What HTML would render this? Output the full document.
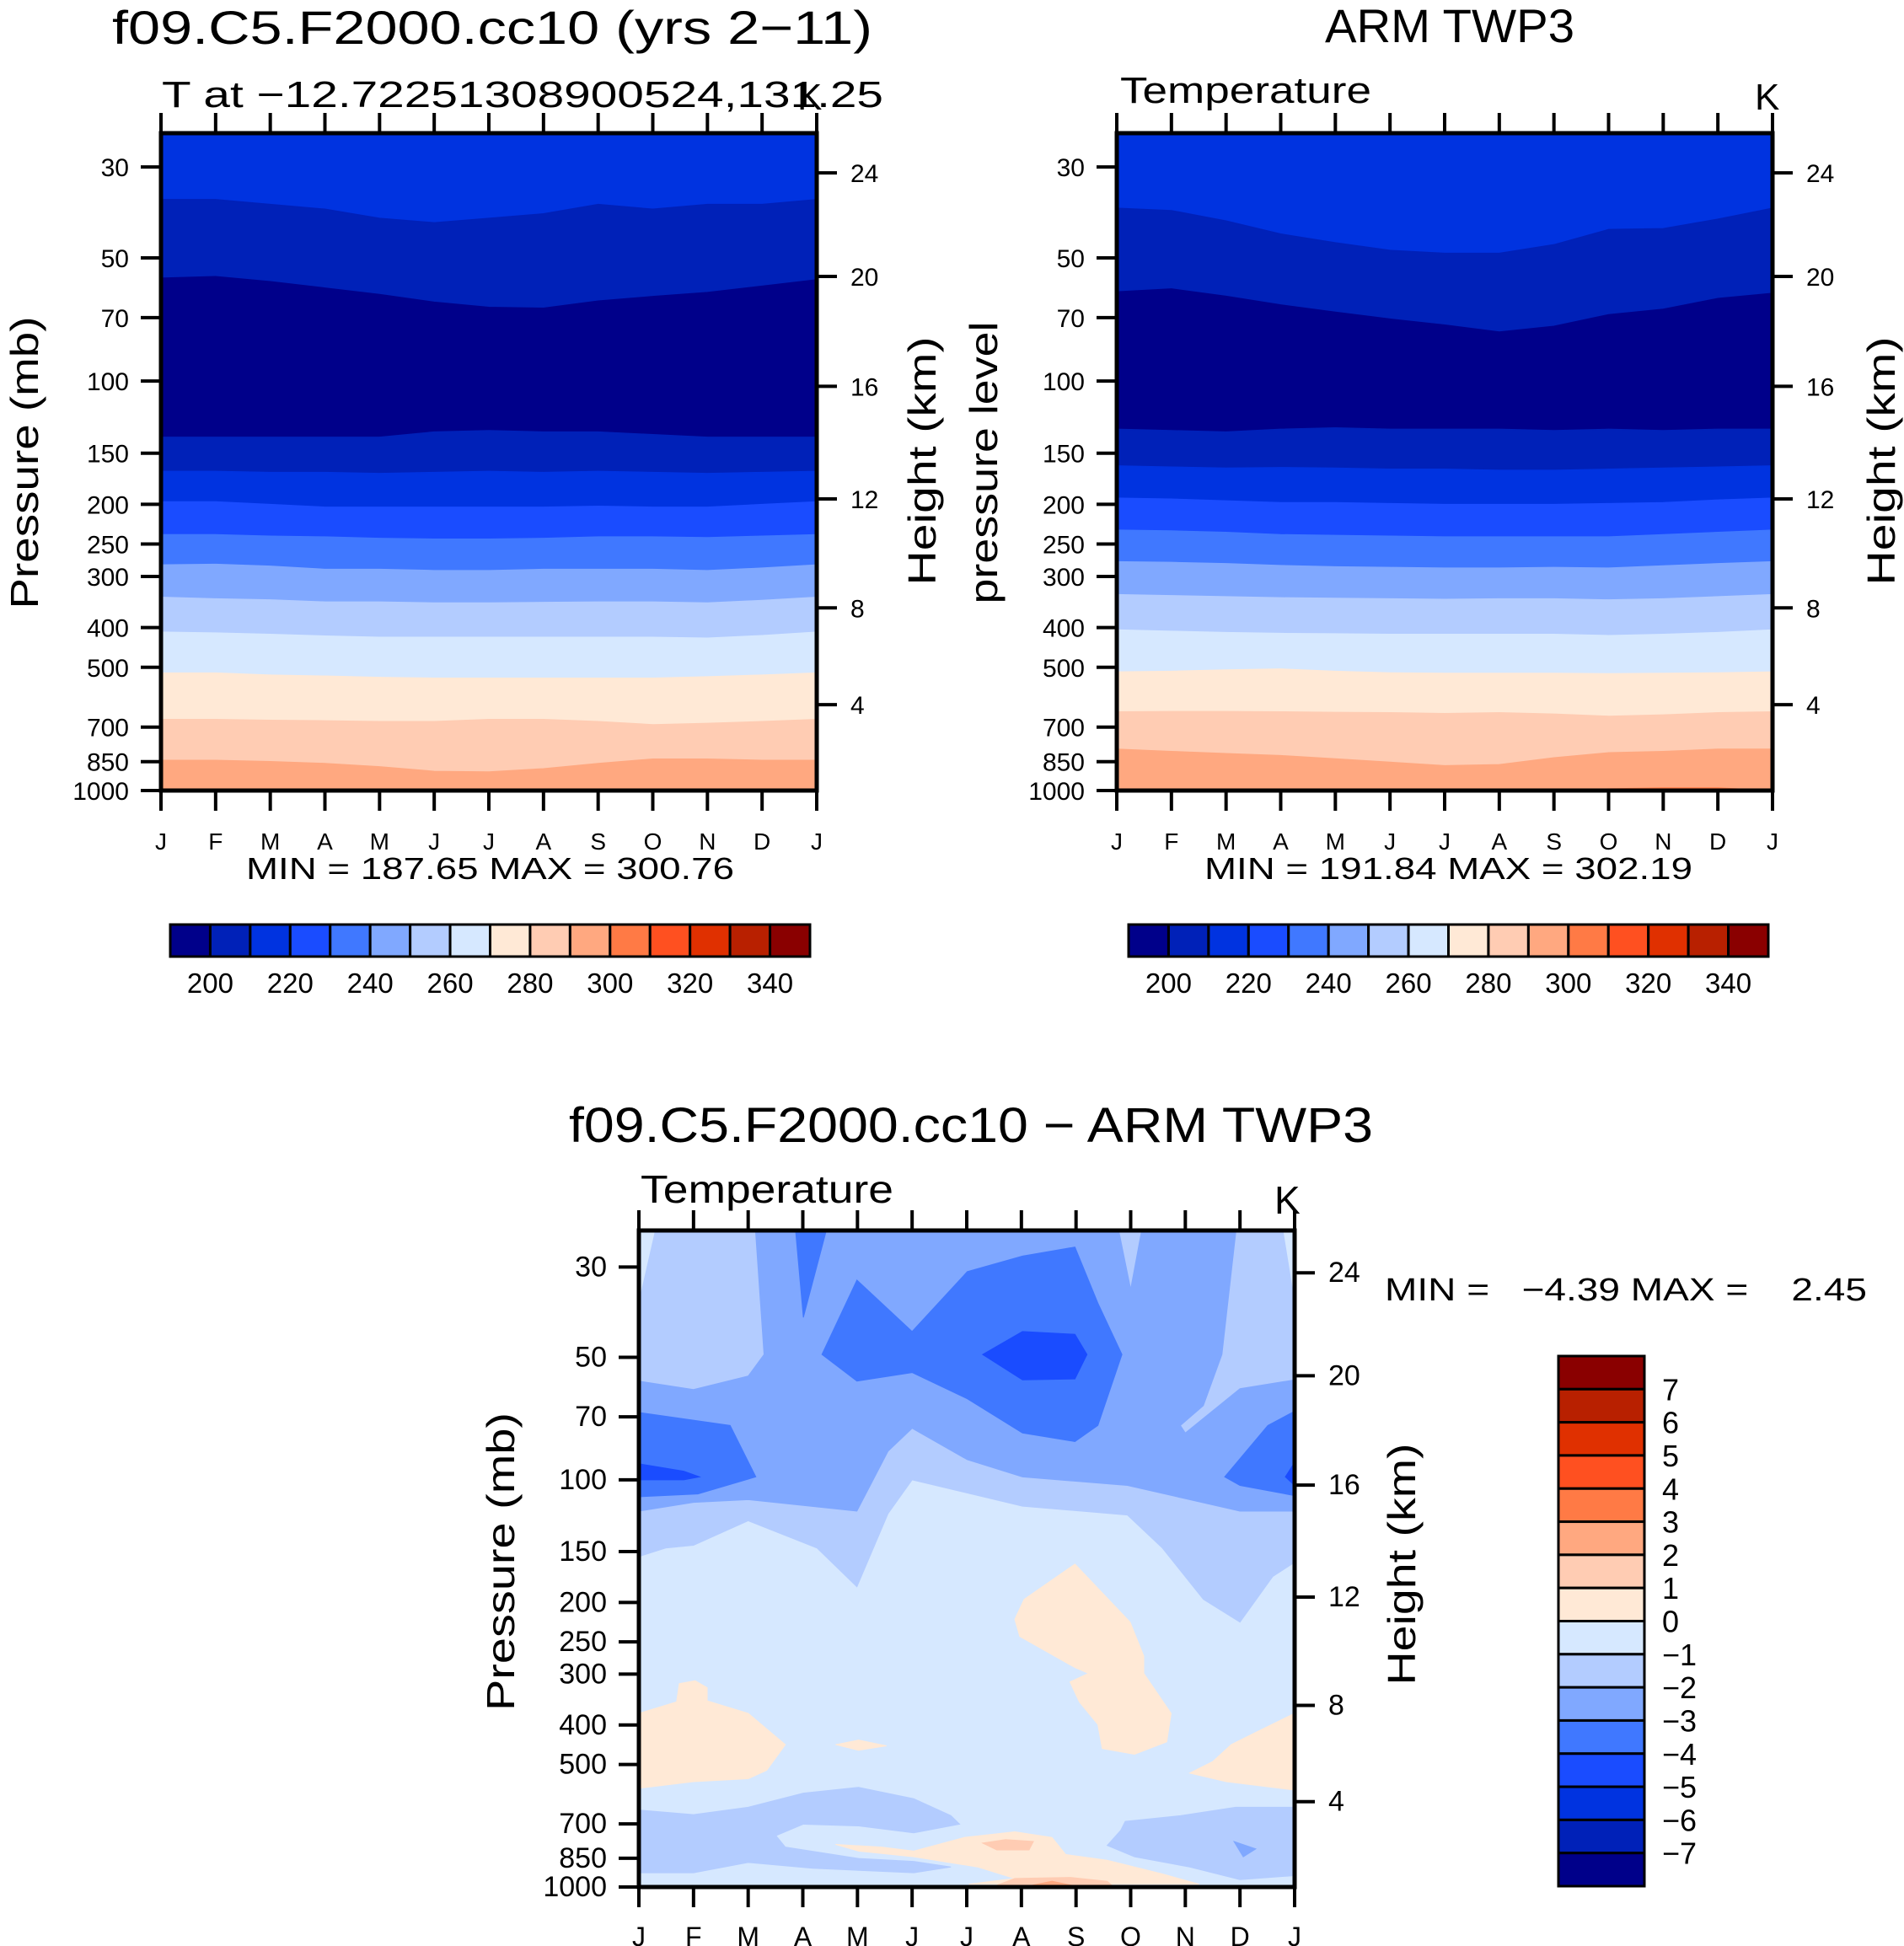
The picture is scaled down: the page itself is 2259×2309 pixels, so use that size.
<!DOCTYPE html>
<html><head><meta charset="utf-8"><style>
html,body{margin:0;padding:0;background:#fff;}
svg{display:block;font-family:"Liberation Sans",sans-serif;}
.nar{font-family:"Liberation Sans Narrow","Liberation Sans",sans-serif;}
</style></head><body>
<svg id="fig" width="2259" height="2309" viewBox="0 0 2259 2309" xmlns="http://www.w3.org/2000/svg">
<defs>
<clipPath id="c1"><rect x="191" y="158" width="778" height="780"/></clipPath>
<clipPath id="c2"><rect x="1325" y="158" width="778" height="780"/></clipPath>
<clipPath id="c3"><rect x="758" y="1460" width="778" height="779"/></clipPath>
</defs>
<text x="133" y="52" font-size="56" textLength="902" lengthAdjust="spacingAndGlyphs">f09.C5.F2000.cc10 (yrs 2−11)</text>
<text x="192" y="127" font-size="44" textLength="856" lengthAdjust="spacingAndGlyphs">T at −12.72251308900524,131.25</text>
<text x="946" y="130" font-size="44">K</text>
<text x="1572" y="50" font-size="56" textLength="296" lengthAdjust="spacingAndGlyphs">ARM TWP3</text>
<text x="1329" y="122" font-size="44" textLength="298" lengthAdjust="spacingAndGlyphs">Temperature</text>
<text x="2082" y="130" font-size="44">K</text>
<text class="nar" x="675" y="1355" font-size="58" textLength="954" lengthAdjust="spacingAndGlyphs">f09.C5.F2000.cc10 − ARM TWP3</text>
<text class="nar" x="760" y="1427" font-size="46" textLength="300" lengthAdjust="spacingAndGlyphs">Temperature</text>
<text class="nar" x="1512" y="1440" font-size="46">K</text>
<text x="292" y="1043" font-size="36" textLength="579" lengthAdjust="spacingAndGlyphs">MIN = 187.65 MAX = 300.76</text>
<text x="1429" y="1043" font-size="36" textLength="579" lengthAdjust="spacingAndGlyphs">MIN = 191.84 MAX = 302.19</text>
<text class="nar" x="1643" y="1543" font-size="38" xml:space="preserve" textLength="572" lengthAdjust="spacingAndGlyphs">MIN =   −4.39 MAX =    2.45</text>
<text transform="translate(45,549) rotate(-90)" text-anchor="middle" font-size="46" textLength="347" lengthAdjust="spacingAndGlyphs">Pressure (mb)</text>
<text transform="translate(1110,547) rotate(-90)" text-anchor="middle" font-size="46" textLength="295" lengthAdjust="spacingAndGlyphs">Height (km)</text>
<text transform="translate(1183,549) rotate(-90)" text-anchor="middle" font-size="46" textLength="335" lengthAdjust="spacingAndGlyphs">pressure level</text>
<text transform="translate(2248,547) rotate(-90)" text-anchor="middle" font-size="46" textLength="295" lengthAdjust="spacingAndGlyphs">Height (km)</text>
<text transform="translate(610,1853) rotate(-90)" text-anchor="middle" font-size="46" textLength="354" lengthAdjust="spacingAndGlyphs">Pressure (mb)</text>
<text transform="translate(1679,1856) rotate(-90)" text-anchor="middle" font-size="46" textLength="287" lengthAdjust="spacingAndGlyphs">Height (km)</text>
<g id="layer"></g>
</svg>
<script>
const NS='http://www.w3.org/2000/svg';
const colors=['#00008a','#0021b8','#0033e0','#1a4cff','#4078ff','#80a8ff','#b3ccff','#d6e8ff','#ffe9d6','#ffccb3','#ffa880','#ff7a45','#ff5020','#e03000','#b82000','#8a0000'];
const months=['J','F','M','A','M','J','J','A','S','O','N','D','J'];
const pressureTicks=[30,50,70,100,150,200,250,300,400,500,700,850,1000];
const heightTicks=[4,8,12,16,20,24];
const heightTickPressure=[617,358,194,103,55.5,31];
const absLabels=[200,220,240,260,280,300,320,340];
const diffLabels=['7','6','5','4','3','2','1','0','−1','−2','−3','−4','−5','−6','−7'];
// model: pressure (mb) of each isotherm per month (J..J)
const modelT210upper=[36,36,37,38,40,41,40,39,37,38,37,37,36];
const modelT200upper=[56,55.5,57.1,59.2,61.4,64.1,66,66.3,63.7,62.1,60.7,58.6,56.5];
const modelT200lower=[137,137,137,137,137,133,132,133,133,135,137,137,137];
const modelT210=[166,166,167,167,168,167,166,167,166,167,168,167,166];
const modelT220=[197,197,200,203,203,203,203,203,202,203,203,200,197];
const modelT230=[237,237,239,240,242,243,243,242,240,240,241,239,237];
const modelT240=[281,280,283,288,288,290,290,288,288,288,290,286,281];
const modelT250=[337,340,342,346,346,348,348,347,346,346,348,343,337];
const modelT260=[410,412,415,419,422,422,422,422,422,422,424,418,410];
const modelT270=[516,516,522,525,529,531,531,531,531,531,527,522,516];
const modelT280=[670,670,673,675,678,678,670,670,678,690,685,678,670];
const modelT290=[843,843,849,858,874,897,900,884,858,837,837,843,843];
const modelT300=[1000,1000,1000,1000,1000,1000,1000,1000,997,992,995,1000,1000];
// observations
const obsT210upper=[37.8,38.3,40.6,43.7,45.9,47.9,48.7,48.7,46.4,42.6,42.4,40.2,37.8];
const obsT200upper=[60.5,59.5,62,65.1,67.8,70.5,72.9,75.8,73.4,68.8,66.7,62.8,61];
const obsT200lower=[131,132,133,131,130,131,131,131,132,131,132,131,131];
const obsT210=[161,162,163,162.5,163,164,164,165,165,164,163,162,161];
const obsT220=[193,194,196,198,198,199,200,200,200,199,198,195,193];
const obsT230=[231,232,234,237,238,239,240,240,240,240,237,234,231];
const obsT240=[276,277,279,282,284,285,286,286,285,286,282.5,279,276];
const obsT250=[332,334,336,338,339,340,341,340,340,342,340,336,332];
const obsT260=[405,408,411,413,414,415,415,415,415,418,415,411,405];
const obsT270=[513,511,507,504.5,511,515.5,517,517,517,518,517,515.5,513];
const obsT280=[642,641,641,642,644,645,648,645,650,658,653,645,642];
const obsT290=[792,802,812,821,836,852,869,864,831,808,802,792,792];
const obsT300=[1000,1000,1000,1000,1000,1000,1000,1000,1000,990,985,985,1000];
const bandColorIdx=[2,1,0,1,2,3,4,5,6,7,8,9,10,11];
// difference field regions: [month, pressure] vertices
const diffLt1Upper=[[0,36.8],[0.45,20],[11.68,20],[12,36.8],[12,159.4],[11.6,172.7],[11,223.6],[10.33,196.5],[9.58,147],[8.94,122],[7.02,116],[5,100],[4.56,121],[3.99,183],[3.26,147],[2,126],[1,144.7],[0.49,147],[0,154.3]];
const diffLt2Upper=[[0,57.2],[1,60],[2,55.6],[2.29,49.2],[2.09,20],[8.65,20],[9,34],[9.32,20],[11,20],[10.67,49.2],[10.33,65.7],[9.91,73.5],[10,76.7],[11,59.7],[12,56.8],[12,119.3],[11,119.3],[8.94,103.2],[7.02,98.3],[6.01,89.2],[5,74.7],[4.56,85],[3.99,119.3],[2,111.8],[1,113.6],[0,119.3]];
const diffLt3Left=[[0,68.3],[1.67,73.5],[2.14,98.3],[1.08,108.3],[0,110]];
const diffLt3Strip=[[2.81,20],[3.6,20],[3.01,39.9]];
const diffLt3Center=[[3.99,32.3],[5,43.2],[6.01,30.8],[7.02,28.2],[7.98,26.8],[8.4,36.8],[8.84,49.2],[8.4,73.5],[7.98,80.5],[7.02,76.7],[6.01,63.2],[5,54.5],[3.99,57.2],[3.35,49.2]];
const diffLt3Right=[[12,67.8],[11.51,73.5],[10.72,98.3],[11,103.2],[12,109.3]];
const diffLt4Left=[[0,91.3],[0.82,95.2],[1.11,98.3],[0.82,100],[0,100]];
const diffLt4Center=[[6.29,49.2],[7.02,43.2],[7.98,43.9],[8.2,49.2],[7.98,56.5],[7.02,56.8]];
const diffLt4Right=[[11.83,98.3],[12,90.6],[12,103.2]];
const diffLt1LowerLeft=[[0,647],[1,664],[2,637],[3.01,588],[4.02,569],[5.03,607],[5.71,668],[5.87,701],[5.03,736],[4.02,708],[3.01,701],[2.51,748],[2.68,798],[4.02,851],[5.03,865],[5.71,893],[5.03,922.6],[3.18,899.5],[2,870.5],[1,922.6],[0,922.6]];
const diffLt1LowerRight=[[12,637],[10.92,637],[9.91,668],[8.9,690],[8.82,725],[8.57,790.5],[9.07,843],[10.08,893],[11,959],[12,937.5]];
const diffLt2Lower=[[10.89,773],[11.29,806],[11.06,843]];
const diffGt0Left=[[0,374.5],[0.69,351],[0.74,316.5],[1.03,311.5],[1.25,324],[1.25,349],[2,374.5],[2.68,447],[2.34,516.6],[2,542],[1,551],[0,572]];
const diffGt0Small=[[3.6,447],[4.02,435.6],[4.53,450],[4.02,461.5]];
const diffGt0Middle=[[7.98,161],[8.99,223.6],[9.24,271],[9.24,298.7],[9.74,374.5],[9.66,440],[9.07,472],[8.48,457],[8.4,399],[8.06,351],[7.89,313.5],[8.23,298.7],[7.98,289],[6.97,242.4],[6.88,220],[7.05,196.5]];
const diffGt0Right=[[12,374.5],[11.26,419],[10.84,447],[10.5,492],[10.08,525],[10.75,551],[12,578]];
const diffGt0Bottom=[[3.6,786],[4.44,798],[5.03,816],[5.96,755.5],[6.88,732],[7.56,755.5],[7.81,832],[8.57,859.5],[9.58,928.6],[10.25,984],[6.04,984],[6.88,953],[6.21,893.4],[5.03,843],[4.02,816]];
const diffGt1Blob=[[6.29,780],[6.71,765],[7.22,773],[7.14,811],[6.55,811]];
const diffGt1Bottom=[[6.38,1010],[6.88,953],[7.89,947],[8.57,968],[8.73,1010]];
const diffGt2Bottom=[[6.88,1010],[7.56,968],[8.23,1010]];

const layer=document.getElementById('layer');
function mk(tag,attrs,parent){const e=document.createElementNS(NS,tag);for(const k in attrs)e.setAttribute(k,attrs[k]);(parent||layer).appendChild(e);return e;}

function panel(P){
  const x=m=>P.x0+m/12*P.W;
  const lr=Math.log(1000/P.pTop);
  const y=p=>P.y0+P.H-Math.log(1000/p)/lr*P.H;
  const g=mk('g',{'clip-path':'url(#'+P.clip+')'});
  
  
  return {x,y,g};
}
function axes(P,S,narrow){
  const x0=P.x0,x1=P.x0+P.W,y0=P.y0,y1=P.y0+P.H;
  const f=narrow?'"Liberation Sans Narrow","Liberation Sans",sans-serif':'"Liberation Sans",sans-serif';
  const fr=mk('rect',{x:x0,y:y0,width:P.W,height:P.H,fill:'none',stroke:'#000','stroke-width':5});
  
  
  months.forEach((mo,i)=>{
    const xx=S.x(i);
    const t1=mk('line',{x1:xx,x2:xx,y1:y1,y2:y1+24,stroke:'#000','stroke-width':4});
    
    
    const t2=mk('line',{x1:xx,x2:xx,y1:y0,y2:y0-24,stroke:'#000','stroke-width':4});
    
    
    const tl=mk('text',{x:xx,y:y1+70,'font-size':narrow?32:28,'text-anchor':'middle','font-family':f});
    tl.textContent=mo;
    
    
  });
  pressureTicks.forEach(p=>{
    const yy=S.y(p);
    const t=mk('line',{x1:x0-24,x2:x0,y1:yy,y2:yy,stroke:'#000','stroke-width':4});
    
    
    const tl=mk('text',{x:x0-38,y:yy+11,'font-size':narrow?34:30,'text-anchor':'end','font-family':f});
    tl.textContent=p;
    
    
  });
  heightTicks.forEach((h,i)=>{
    const yy=S.y(heightTickPressure[i]);
    const t=mk('line',{x1:x1,x2:x1+24,y1:yy,y2:yy,stroke:'#000','stroke-width':4});
    
    
    const tl=mk('text',{x:x1+40,y:yy+11,'font-size':narrow?34:30,'font-family':f});
    tl.textContent=h;
    
    
  });
}
function bands(P,bounds){
  const S=panel(P);
  const top=months.map(()=>P.pTop*0.8), bot=months.map(()=>1000);
  const all=[top,...bounds,bot];
  for(let b=0;b<all.length-1;b++){
    const up=all[b],lo=all[b+1];
    let pts=up.map((p,i)=>S.x(i)+','+S.y(p));
    for(let i=lo.length-1;i>=0;i--)pts.push(S.x(i)+','+S.y(lo[i]));
    const pg=mk('polygon',{points:pts.join(' '),fill:colors[bandColorIdx[b]],stroke:colors[bandColorIdx[b]],'stroke-width':1},S.g);
    
    
  }
  axes(P,S,false);
}
function hbar(x0,y0,w,h,name){
  const bw=w/16;
  colors.forEach((c,i)=>{
    const r=mk('rect',{x:x0+i*bw,y:y0,width:bw,height:h,fill:c,stroke:'#000','stroke-width':3});
    
    
  });
  absLabels.forEach((v,k)=>{
    const t=mk('text',{x:x0+(2*k+1)*bw,y:y0+h+43,'font-size':33,'text-anchor':'middle'});
    t.textContent=v;
    
    
  });
}
const P1={name:'model',x0:191,y0:158,W:778,H:780,pTop:24.8,clip:'c1'};
bands(P1,[modelT210upper,modelT200upper,modelT200lower,modelT210,modelT220,modelT230,modelT240,modelT250,modelT260,modelT270,modelT280,modelT290,modelT300]);
const P2={name:'obs',x0:1325,y0:158,W:778,H:780,pTop:24.8,clip:'c2'};
bands(P2,[obsT210upper,obsT200upper,obsT200lower,obsT210,obsT220,obsT230,obsT240,obsT250,obsT260,obsT270,obsT280,obsT290,obsT300]);
hbar(202,1097,759,38,'model-colorbar');
hbar(1339,1097,759,38,'obs-colorbar');

// difference panel
const P3={name:'diff',x0:758,y0:1460,W:778,H:779,pTop:24.4,clip:'c3'};
const S3=panel(P3);
const bg=mk('rect',{x:758,y:1460,width:778,height:779,fill:colors[7]},S3.g);


const regions=[[diffLt1Upper,6],[diffLt2Upper,5],[diffLt3Left,4],[diffLt3Strip,4],[diffLt3Center,4],[diffLt3Right,4],[diffLt4Left,3],[diffLt4Center,3],[diffLt4Right,3],[diffLt1LowerLeft,6],[diffLt1LowerRight,6],[diffLt2Lower,5],[diffGt0Left,8],[diffGt0Small,8],[diffGt0Middle,8],[diffGt0Right,8],[diffGt0Bottom,8],[diffGt1Blob,9],[diffGt1Bottom,9],[diffGt2Bottom,10]];
regions.forEach(([poly,ci])=>{
  const pts=poly.map(([m,p])=>S3.x(m)+','+S3.y(p)).join(' ');
  const pg=mk('polygon',{points:pts,fill:colors[ci],stroke:colors[ci],'stroke-width':1},S3.g);
  
  
});
axes(P3,S3,true);
// vertical colorbar
(function(){
  const x0=1849,y0=1609,w=102,h=629,bh=h/16;
  for(let i=0;i<16;i++){
    const r=mk('rect',{x:x0,y:y0+i*bh,width:w,height:bh,fill:colors[15-i],stroke:'#000','stroke-width':3});
    
    
  }
  diffLabels.forEach((v,k)=>{
    const t=mk('text',{x:1972,y:y0+(k+1)*bh+13,'font-size':36,'font-family':'"Liberation Sans Narrow","Liberation Sans",sans-serif'});
    t.textContent=v;
    
    
  });
})();
</script>
</body></html>
